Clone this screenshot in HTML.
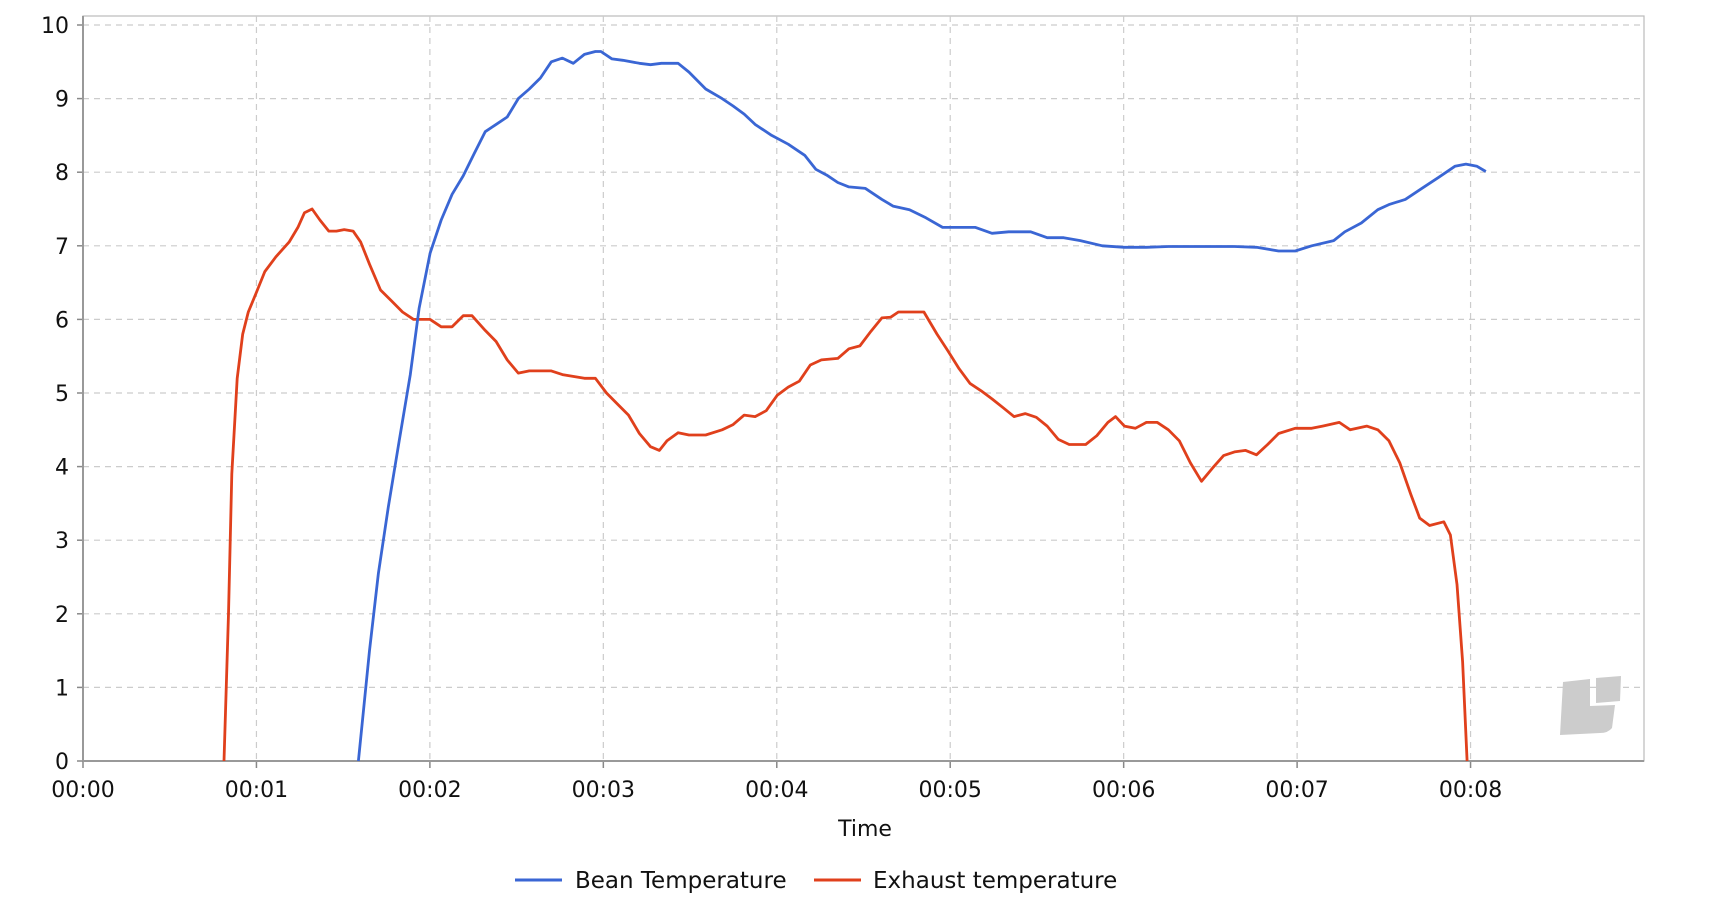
<!DOCTYPE html>
<html><head><meta charset="utf-8">
<style>
html,body{margin:0;padding:0;background:#fff;}
svg{display:block;font-family:"DejaVu Sans","Liberation Sans",sans-serif;}
</style></head>
<body>
<svg id="chart" width="1728" height="916" viewBox="0 0 1728 916">
  <g id="grid"></g>
  <g id="axes"></g>
  <g id="watermark" fill="#cccccc">
    <path d="M1563,682 L1590,679 L1590,706 L1615,705 L1612,728 Q1608,733 1600,733 L1560,735 Z"/>
    <path d="M1596,678 L1621,676 L1620,701 L1596,703 Z"/>
  </g>
  <g id="series"></g>
  <text x="865" y="836" text-anchor="middle" font-size="22" fill="#111">Time</text>
  <g>
    <g>
      <line x1="515" y1="880" x2="562" y2="880" stroke="#3a66d4" stroke-width="3"/>
      <text x="575" y="888" font-size="23" fill="#111">Bean Temperature</text>
    </g>
    <g>
      <line x1="814" y1="880" x2="861" y2="880" stroke="#e0401c" stroke-width="3"/>
      <text x="873" y="888" font-size="23" fill="#111">Exhaust temperature</text>
    </g>
  </g>
</svg>
<script>
const xTicks = [0,1,2,3,4,5,6,7,8];
const xTickLabels = ["00:00","00:01","00:02","00:03","00:04","00:05","00:06","00:07","00:08"];
const yTicks = [0,1,2,3,4,5,6,7,8,9,10];
const beanT = [1.588,1.652,1.703,1.760,1.823,1.887,1.938,2.001,2.065,2.128,2.192,2.255,2.319,2.382,2.446,2.510,2.573,2.637,2.700,2.764,2.827,2.891,2.954,2.986,3.050,3.113,3.208,3.272,3.335,3.431,3.494,3.590,3.685,3.748,3.812,3.875,3.971,4.066,4.161,4.225,4.288,4.352,4.416,4.511,4.606,4.670,4.765,4.860,4.956,5.051,5.146,5.241,5.337,5.464,5.559,5.654,5.750,5.877,6.004,6.131,6.258,6.385,6.512,6.639,6.766,6.893,6.989,7.084,7.211,7.275,7.370,7.465,7.529,7.624,7.719,7.815,7.910,7.973,8.037,8.088];
const beanV = [0,1.5,2.55,3.45,4.35,5.25,6.15,6.9,7.35,7.7,7.95,8.25,8.55,8.65,8.75,9.0,9.13,9.28,9.5,9.55,9.48,9.6,9.64,9.64,9.54,9.52,9.48,9.46,9.48,9.48,9.36,9.13,9.0,8.9,8.79,8.65,8.5,8.38,8.23,8.04,7.96,7.86,7.8,7.78,7.63,7.54,7.49,7.38,7.25,7.25,7.25,7.17,7.19,7.19,7.11,7.11,7.07,7.0,6.98,6.98,6.99,6.99,6.99,6.99,6.98,6.93,6.93,7.0,7.07,7.19,7.31,7.49,7.56,7.63,7.78,7.93,8.08,8.11,8.08,8.01];
const exhT = [0.813,0.839,0.858,0.889,0.921,0.953,0.997,1.048,1.112,1.188,1.239,1.277,1.321,1.366,1.417,1.461,1.506,1.557,1.601,1.652,1.715,1.779,1.842,1.906,2.001,2.065,2.128,2.192,2.243,2.319,2.382,2.446,2.510,2.573,2.700,2.764,2.891,2.954,3.018,3.081,3.145,3.208,3.272,3.323,3.367,3.431,3.494,3.590,3.685,3.748,3.812,3.875,3.939,4.003,4.066,4.130,4.193,4.257,4.352,4.416,4.479,4.543,4.606,4.657,4.701,4.797,4.848,4.924,4.987,5.051,5.114,5.178,5.241,5.305,5.368,5.432,5.496,5.559,5.623,5.686,5.781,5.845,5.909,5.953,6.004,6.067,6.131,6.194,6.258,6.321,6.385,6.449,6.512,6.576,6.639,6.703,6.766,6.830,6.893,6.989,7.084,7.147,7.243,7.306,7.401,7.465,7.529,7.592,7.656,7.707,7.764,7.846,7.884,7.922,7.954,7.980];
const exhV = [0,2.0,3.9,5.2,5.8,6.1,6.35,6.65,6.85,7.05,7.25,7.45,7.5,7.35,7.2,7.2,7.22,7.2,7.05,6.75,6.4,6.25,6.1,6.0,6.0,5.9,5.9,6.05,6.05,5.85,5.7,5.45,5.27,5.3,5.3,5.25,5.2,5.2,5.0,4.85,4.7,4.45,4.27,4.22,4.35,4.46,4.43,4.43,4.5,4.57,4.7,4.68,4.76,4.97,5.08,5.16,5.38,5.45,5.47,5.6,5.64,5.84,6.02,6.03,6.1,6.1,6.1,5.8,5.57,5.33,5.13,5.03,4.92,4.8,4.68,4.72,4.67,4.55,4.37,4.3,4.3,4.42,4.6,4.68,4.55,4.52,4.6,4.6,4.5,4.35,4.05,3.8,3.98,4.15,4.2,4.22,4.16,4.3,4.45,4.52,4.52,4.55,4.6,4.5,4.55,4.5,4.35,4.05,3.62,3.3,3.2,3.25,3.07,2.4,1.35,0];

const NS = "http://www.w3.org/2000/svg";
const L = 83, R = 1644, T = 16, B = 761;
const xMin = 0, xMax = 9, yMin = 0, yTop = 10, yTopPx = 25;
function xs(t){ return L + (t - xMin) / (xMax - xMin) * (R - L); }
function ys(v){ return B - (v - yMin) / (yTop - yMin) * (B - yTopPx); }
function mk(tag, attrs, parent){ const e = document.createElementNS(NS, tag); for (const k in attrs) e.setAttribute(k, attrs[k]); parent.appendChild(e); return e; }

const grid = document.getElementById('grid');
const axes = document.getElementById('axes');
mk('rect', {x:L, y:T, width:R-L, height:B-T, fill:'none', stroke:'#bbbbbb', 'stroke-width':1.2}, grid);
yTicks.forEach(v => {
  const y = ys(v);
  if (v > 0) {
    const g = mk('line', {x1:L, x2:R, y1:y, y2:y, stroke:'#cccccc', 'stroke-width':1.2, 'stroke-dasharray':'6,5'}, grid);
    
    
  }
  mk('line', {x1:L-6, x2:L, y1:y, y2:y, stroke:'#888', 'stroke-width':1.5}, axes);
  const t = mk('text', {x:L-14, y:y+8, 'text-anchor':'end', 'font-size':22, fill:'#111'}, axes);
  t.textContent = v;
  
  
});
xTicks.forEach((tv, i) => {
  const x = xs(tv);
  if (tv > 0) {
    const g = mk('line', {x1:x, x2:x, y1:T, y2:B, stroke:'#cccccc', 'stroke-width':1.2, 'stroke-dasharray':'6,5'}, grid);
    
    
  }
  mk('line', {x1:x, x2:x, y1:B, y2:B+7, stroke:'#888', 'stroke-width':1.5}, axes);
  const t = mk('text', {x:x, y:B+36, 'text-anchor':'middle', 'font-size':22, fill:'#111'}, axes);
  t.textContent = xTickLabels[i];
  
  
});
mk('line', {x1:L, x2:L, y1:T, y2:B, stroke:'#999', 'stroke-width':2}, axes);
mk('line', {x1:L, x2:R, y1:B, y2:B, stroke:'#999', 'stroke-width':2}, axes);

const series = document.getElementById('series');
function drawLine(ts, vs, color, name){
  const d = ts.map((t,i) => (i ? 'L' : 'M') + xs(t).toFixed(1) + ',' + ys(vs[i]).toFixed(1)).join(' ');
  const p = mk('path', {d:d, fill:'none', stroke:color, 'stroke-width':2.8, 'stroke-linejoin':'round'}, series);
  
  
}
drawLine(exhT, exhV, '#e0401c', 'exhaust-temperature-line');
drawLine(beanT, beanV, '#3a66d4', 'bean-temperature-line');
</script>
</body></html>
